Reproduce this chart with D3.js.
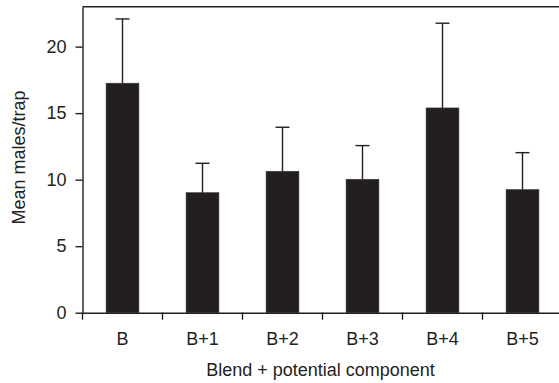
<!DOCTYPE html>
<html>
<head>
<meta charset="utf-8">
<script src="https://cdn.jsdelivr.net/npm/d3@7"></script>
<style>
  html, body { margin: 0; padding: 0; background: #fff; }
  svg { display: block; }
  text { font-family: "Liberation Sans", Arial, Helvetica, sans-serif; fill: #231f20; }
</style>
</head>
<body>
<script>
// Data
const categories = ["B", "B+1", "B+2", "B+3", "B+4", "B+5"];
const means = [17.25, 9.02, 10.63, 10.03, 15.39, 9.25];
const errorTops = [22.08, 11.23, 13.94, 12.56, 21.76, 12.03];
const yTicks = [0, 5, 10, 15, 20];
const yLabel = "Mean males/trap";
const xLabel = "Blend + potential component";

const W = 559, H = 383;
const ink = "#231f20";
const svg = d3.select("body").append("svg").attr("width", W).attr("height", H);

const x = d3.scaleBand().domain(categories).range([82.5, 562.5]).padding(0);
const y = d3.scaleLinear().domain([0, 23]).range([312.7, 6.7]);
const barW = x.bandwidth() * 0.41;

// Bars
svg.append("g").selectAll("rect").data(categories).join("rect")
  .attr("x", d => x(d) + (x.bandwidth() - barW) / 2)
  .attr("width", barW)
  .attr("y", (d, i) => y(means[i]))
  .attr("height", (d, i) => y(0) - y(means[i]))
  .attr("fill", ink)
  .attr("stroke", "#3a3738")
  .attr("stroke-width", 0.6);

// Error bars
const capW = 14;
const eg = svg.append("g").attr("stroke", ink).attr("stroke-width", 1.4);
eg.selectAll("line.v").data(categories).join("line").attr("class", "v")
  .attr("x1", d => x(d) + x.bandwidth() / 2)
  .attr("x2", d => x(d) + x.bandwidth() / 2)
  .attr("y1", (d, i) => y(means[i]))
  .attr("y2", (d, i) => y(errorTops[i]));
eg.selectAll("line.c").data(categories).join("line").attr("class", "c")
  .attr("x1", d => x(d) + x.bandwidth() / 2 - capW / 2)
  .attr("x2", d => x(d) + x.bandwidth() / 2 + capW / 2)
  .attr("y1", (d, i) => y(errorTops[i]))
  .attr("y2", (d, i) => y(errorTops[i]));

// Top frame line
svg.append("line")
  .attr("x1", x.range()[0]).attr("x2", W)
  .attr("y1", y(23)).attr("y2", y(23))
  .attr("stroke", ink).attr("stroke-width", 1.4);

// Y axis
const yAxis = svg.append("g")
  .attr("transform", `translate(${x.range()[0]},0)`)
  .call(d3.axisLeft(y).tickValues(yTicks).tickSize(7).tickPadding(9).tickSizeOuter(0));
yAxis.select(".domain").attr("stroke", ink).attr("stroke-width", 1.4);
yAxis.selectAll(".tick line").attr("stroke", ink).attr("stroke-width", 1.4);
yAxis.selectAll(".tick text").attr("font-size", 18).attr("font-family", "Liberation Sans, Arial, sans-serif").attr("fill", ink);

// X axis (labels centered in bands)
const xAxis = svg.append("g")
  .attr("transform", `translate(0,${y(0)})`)
  .call(d3.axisBottom(x).tickSize(0).tickPadding(20).tickSizeOuter(0));
xAxis.select(".domain").attr("stroke", ink).attr("stroke-width", 1.4);
xAxis.selectAll(".tick text").attr("font-size", 18).attr("font-family", "Liberation Sans, Arial, sans-serif").attr("fill", ink);

// Band boundary ticks
const bounds = categories.map(c => x(c)).concat([x.range()[1]]);
svg.append("g").selectAll("line").data(bounds).join("line")
  .attr("x1", d => d).attr("x2", d => d)
  .attr("y1", y(0)).attr("y2", y(0) + 7)
  .attr("stroke", ink).attr("stroke-width", 1.4);

// Axis titles
svg.append("text")
  .attr("x", (x.range()[0] + x.range()[1]) / 2 - 2)
  .attr("y", 375.5)
  .attr("text-anchor", "middle")
  .attr("font-size", 18)
  .text(xLabel);

svg.append("text")
  .attr("transform", `translate(25,157.5) rotate(-90)`)
  .attr("text-anchor", "middle")
  .attr("font-size", 18)
  .text(yLabel);
</script>
</body>
</html>
